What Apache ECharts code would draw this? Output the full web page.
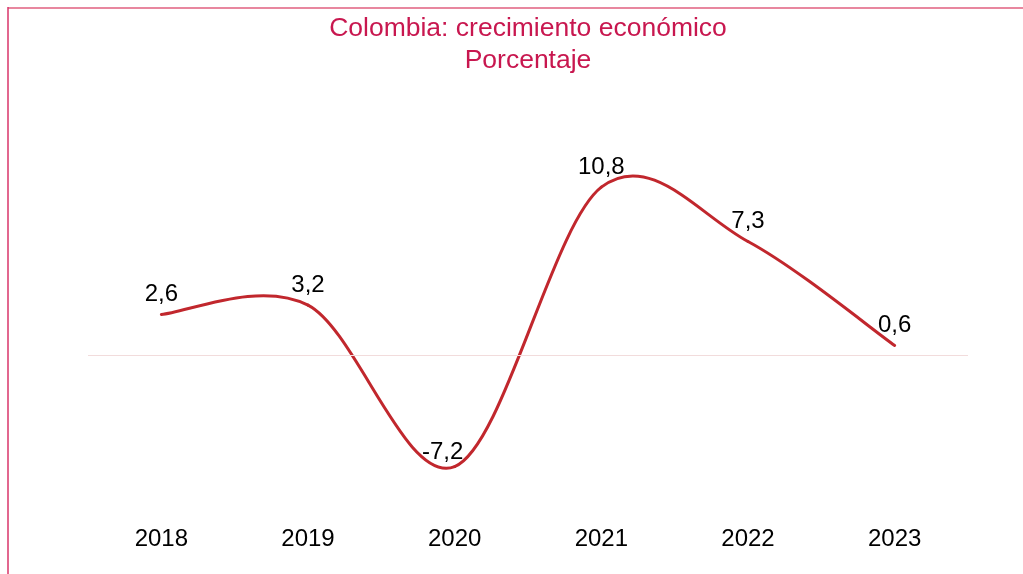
<!DOCTYPE html>
<html>
<head>
<meta charset="utf-8">
<script src="https://cdn.jsdelivr.net/npm/echarts@6/dist/echarts.min.js"></script>
<style>
html,body{margin:0;padding:0;background:#fff;}
#c{width:1023px;height:574px;}
</style>
</head>
<body>
<div id="c"></div>
<script>
const categories = ['2018','2019','2020','2021','2022','2023'];
const growth = [2.6, 3.2, -7.2, 10.8, 7.3, 0.6];
const titleLines = ['Colombia: crecimiento económico', 'Porcentaje'];

const FONT = 'Liberation Sans, Arial, sans-serif';
const chart = echarts.init(document.getElementById('c'));

// Excel-like smoothed curve (Catmull-Rom -> cubic Bezier) through the data points,
// positioned via the chart's own axes (api.coord).
function renderSegment(params, api) {
  const i = params.dataIndex;
  const n = growth.length;
  if (i >= n - 1) return null;
  const P = k => {
    const j = Math.max(0, Math.min(n - 1, k));
    return api.coord([j, growth[j]]);
  };
  const p0 = P(i - 1), p1 = P(i), p2 = P(i + 1), p3 = P(i + 2);
  const t = 1 / 6;
  return {
    type: 'bezierCurve',
    shape: {
      x1: p1[0], y1: p1[1],
      x2: p2[0], y2: p2[1],
      cpx1: p1[0] + (p2[0] - p0[0]) * t, cpy1: p1[1] + (p2[1] - p0[1]) * t,
      cpx2: p2[0] - (p3[0] - p1[0]) * t, cpy2: p2[1] - (p3[1] - p1[1]) * t
    },
    style: {stroke: '#c1272d', lineWidth: 3, fill: null, lineCap: 'round'}
  };
}

const labelData = growth.map((v, i) => {
  const d = {value: [i, v]};
  if (v < 0) d.label = {offset: [-12, 6]};
  return d;
});

chart.setOption({
  animation: false,
  backgroundColor: '#ffffff',
  title: {
    text: titleLines.join('\n'),
    left: 523,
    top: 8,
    textAlign: 'center',
    textStyle: {
      fontFamily: FONT,
      fontSize: 26.5,
      fontWeight: 'normal',
      color: '#c8174f',
      lineHeight: 32
    }
  },
  graphic: [
    {type: 'line', shape: {x1: 8, y1: 8, x2: 1023, y2: 8}, style: {stroke: '#e8879f', lineWidth: 2}},
    {type: 'line', shape: {x1: 8, y1: 7, x2: 8, y2: 574}, style: {stroke: '#d8356a', lineWidth: 1.5}}
  ],
  grid: {left: 88, right: 55, top: 122, bottom: 64},
  xAxis: {
    type: 'category',
    data: categories,
    boundaryGap: true,
    axisLine: {show: false},
    axisTick: {show: false},
    axisLabel: {
      fontFamily: FONT,
      fontSize: 24,
      color: '#000',
      margin: 17,
      verticalAlign: 'top'
    }
  },
  yAxis: {
    type: 'value',
    min: -10,
    max: 15,
    interval: 5,
    axisLine: {show: false},
    axisTick: {show: false},
    axisLabel: {show: false},
    splitLine: {show: false}
  },
  series: [
    {
      type: 'custom',
      renderItem: renderSegment,
      data: growth.map((v, i) => [i, v]),
      silent: true,
      z: 2,
      markLine: {
        silent: true,
        symbol: 'none',
        label: {show: false},
        lineStyle: {color: '#f2dcdc', type: 'solid', width: 1},
        data: [{yAxis: 0}]
      }
    },
    {
      type: 'scatter',
      data: labelData,
      symbolSize: 0,
      silent: true,
      itemStyle: {color: '#000', opacity: 1},
      z: 3,
      label: {
        show: true,
        position: 'top',
        distance: 8,
        fontFamily: FONT,
        fontSize: 24,
        color: '#000',
        opacity: 1,
        formatter: p => String(p.value[1]).replace('.', ',')
      }
    }
  ]
});
</script>
</body>
</html>
